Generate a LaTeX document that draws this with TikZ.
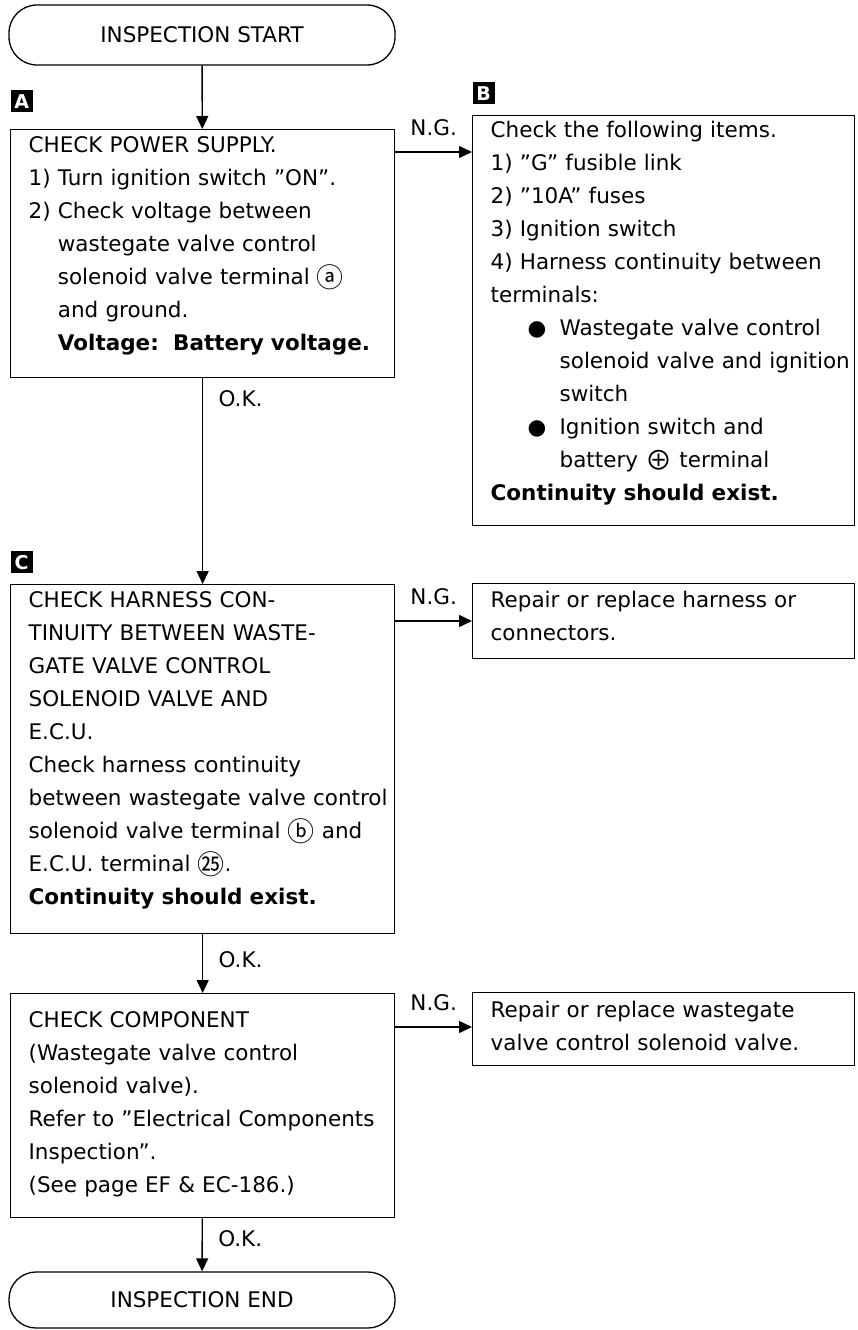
\documentclass[tikz,border=0pt]{standalone}
\usepackage{fontspec}
\setmainfont{DejaVu Sans}
\newfontfamily\cjkfont{Noto Sans CJK SC}
\usetikzlibrary{arrows.meta,positioning}

\newcommand{\circsym}[1]{\raisebox{-2.5pt}{\cjkfont\fontsize{27}{33}\selectfont #1}}

\tikzset{
  chkbox/.style n args={3}{draw, line width=1.3pt, anchor=north west, align=left,
    inner xsep=2pt, inner ysep=0pt, text width=#1, text height=#2, text depth=#3,
    execute at begin node={\leftskip=16pt\relax}},
  terminal/.style={draw, line width=1.3pt, rounded corners=28pt,
    minimum width=386pt, minimum height=58pt, inner sep=0pt},
  lettertag/.style={fill=black, text=white, font=\bfseries\fontsize{19}{19}\selectfont,
    inner sep=0pt, minimum size=22pt, anchor=south west},
  nglabel/.style={midway, above=12pt},
  oklabel/.style={pos=0, anchor=north west, xshift=12pt, yshift=-8pt},
}

\begin{document}
\begin{tikzpicture}[x=1pt,y=-1pt,font=\fontsize{21.5}{33}\selectfont,
    >={Triangle[length=13pt,width=12pt]},line width=1.4pt]
\useasboundingbox (0,0) rectangle (857,1330);

% left column
\node[terminal, minimum height=60pt] (start) at (202,35) {INSPECTION START};

\node[chkbox={380pt}{23pt}{225pt}] (chkA) at (10,129) {CHECK POWER SUPPLY.\\
1) Turn ignition switch ''ON''.\\
2) Check voltage between\\
\phantom{2) }wastegate valve control\\
\phantom{2) }solenoid valve terminal \circsym{ⓐ}\\
\phantom{2) }and ground.\\
\phantom{2) }\textbf{Voltage:\ \ Battery voltage.}};
\node[lettertag] (tagA) at ([yshift=16pt]chkA.north west) {A};

\node[chkbox={380pt}{23pt}{326pt}] (chkC) at (10,584) {CHECK HARNESS CON-\\
TINUITY BETWEEN WASTE-\\
GATE VALVE CONTROL\\
SOLENOID VALVE AND\\
E.C.U.\\
Check harness continuity\\
between wastegate valve control\\
solenoid valve terminal \circsym{ⓑ} and\\
E.C.U. terminal \circsym{㉕}.\\
\textbf{Continuity should exist.}};
\node[lettertag] (tagC) at ([yshift=10pt]chkC.north west) {C};

\node[chkbox={380pt}{34pt}{190pt}] (chkD) at (10,993) {CHECK COMPONENT\\
(Wastegate valve control\\
solenoid valve).\\
Refer to ''Electrical Components\\
Inspection''.\\
(See page EF \& EC-186.)};

\node[terminal, minimum height=56pt, rounded corners=27pt] (finish) at (202,1300) {INSPECTION END};

% right column
\node[chkbox={378pt}{22pt}{388pt}] (itemsB) at (472,115) {Check the following items.\\
1) ''G'' fusible link\\
2) ''10A'' fuses\\
3) Ignition switch\\
4) Harness continuity between\\
terminals:\\
\hspace*{37pt}\makebox[32pt][l]{●}Wastegate valve control\\
\hspace*{69pt}solenoid valve and ignition\\
\hspace*{69pt}switch\\
\hspace*{37pt}\makebox[32pt][l]{●}Ignition switch and\\
\hspace*{69pt}battery \circsym{⊕} terminal\\
\textbf{Continuity should exist.}};
\node[lettertag] (tagB) at ([yshift=10pt]itemsB.north west) {B};

\node[chkbox={378pt}{24pt}{51pt}] (repC) at (472,583) {Repair or replace harness or\\
connectors.};

\node[chkbox={378pt}{25pt}{48pt}] (repD) at (472,992) {Repair or replace wastegate\\
valve control solenoid valve.};

% connectors
\draw[->] (start) -- (chkA);
\draw[->] (chkA) -- (chkC) node[oklabel] {O.K.};
\draw[->] (chkC) -- (chkD) node[oklabel, yshift=-5pt] {O.K.};
\draw[->] (chkD) -- (finish) node[oklabel] {O.K.};

\draw[->] ([yshift=-23pt]chkA.north east) coordinate (ngA) -- (ngA -| itemsB.west) node[nglabel] {N.G.};
\draw[->] ([yshift=-37pt]chkC.north east) coordinate (ngC) -- (ngC -| repC.west) node[nglabel] {N.G.};
\draw[->] ([yshift=-34pt]chkD.north east) coordinate (ngD) -- (ngD -| repD.west) node[nglabel] {N.G.};
\end{tikzpicture}
\end{document}
